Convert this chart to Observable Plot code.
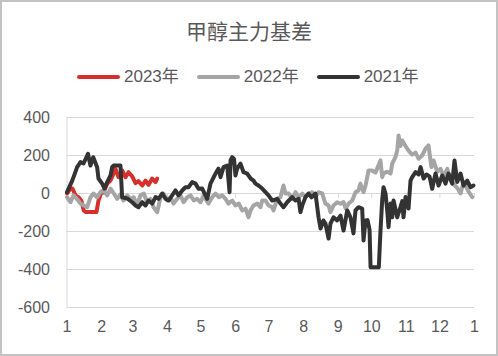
<!DOCTYPE html>
<html><head><meta charset="utf-8">
<script src="https://cdn.jsdelivr.net/npm/d3@7"></script>
<script src="https://cdn.jsdelivr.net/npm/@observablehq/plot@0.6"></script>
<style>
html,body{margin:0;padding:0;background:#fff;}
#wrap{position:relative;width:498px;height:356px;overflow:hidden;background:#fff;}
#frame{position:absolute;left:0;top:0;width:498px;height:356px;box-sizing:border-box;border:2px solid #c3c3c3;pointer-events:none;}
#title{position:absolute;left:0;top:15px;width:498px;height:30px;line-height:30px;text-align:center;font-family:"Noto Sans CJK SC";font-size:21px;color:#595959;}
#legend{position:absolute;left:77px;top:66px;height:22px;display:flex;align-items:center;font-family:"Liberation Sans","Noto Sans CJK SC";font-size:17px;color:#595959;white-space:nowrap;}
.item{display:flex;align-items:center;margin-right:18px;height:22px;line-height:22px;}
.sw{width:43px;height:4px;border-radius:2px;margin-right:4px;}
#chart{position:absolute;left:0;top:100px;}
</style></head><body>
<div id="wrap"><div id="title">甲醇主力基差</div><div id="legend"></div><div id="chart"></div><div id="frame"></div></div>
<script>
const seriesNames = ["2023年", "2022年", "2021年"];
const seriesColors = ["#d7302c", "#a5a5a5", "#333333"];

const monthDays = [0,31,59,90,120,151,181,212,243,273,304,334,365];
const monthLabels = ["1","2","3","4","5","6","7","8","9","10","11","12","1"];
const yTicks = [-600,-400,-200,0,200,400];

const days2023 = [0,3.1,4.9,7.6,10.3,13,15,17,26.4,28.2,30.9,32.7,36,39,41.7,43.4,46.1,49.4,52.4,55.1,58.4,61.4,64,67.4,70.3,73,76.3,79.3,80.8];
const vals2023 = [0,26,26,-10,-20,-40,-89,-98,-98,-37,10,5,52,68,105,130,86,121,86,112,90,55,65,42,68,45,79,60,79];

const days2022 = [0,3.1,5.8,9.1,12.1,15,18.1,21,23.7,27,30,32.7,36,39,41.9,45,47.9,50.6,53.9,56.9,59.8,62.9,65.8,68.8,71.8,74.8,77.5,80.8,83.8,86.4,89.8,92.7,95.4,98.7,101.7,104.4,107.7,110.6,113.6,116.6,119.6,122.5,124,126.8,130.1,133,136,139,142,144.7,148,150.9,153.9,156.9,159.9,162.6,164.4,167.1,170.4,173.3,174.8,177.8,180.5,183.8,185,188.3,191.2,193.9,195.7,198.7,201.7,204.7,207.6,210.7,213.6,216.6,219.6,222.6,225.3,228.6,231.5,234.3,236,238.7,242,245,247.7,249.5,252.2,255.5,258.4,261.1,262.8,265.6,267.4,270.1,273.4,276.3,277.8,280.8,282.3,283.5,286.8,289.8,291.3,294.2,295.8,297,298.7,300.3,303.2,305.9,309.2,312.2,314.9,318.1,321,323.8,326.4,328.3,331.6,334.6,337.3,340.6,343.5,346.2,349.5,352.5,355.2,357.9,359.7,363];
const vals2022 = [-19,-46,-10,-30,-53,-63,-72,-20,0,-20,7,16,-10,26,0,-28,-5,-37,-10,-28,-20,-63,-10,0,-46,-28,-72,-98,-19,0,-37,-20,-53,-28,-10,-46,-20,-10,-37,-28,-46,-10,-28,-53,-19,0,-19,-10,-28,-53,-37,-63,-53,-89,-80,-125,-89,-63,-53,-72,-37,-37,-63,-72,-89,-28,-20,42,0,0,-28,7,-20,0,-20,0,7,-20,7,0,-53,-63,-98,-63,-46,-54,-45,-79,-53,-37,7,16,52,7,42,121,121,110,131,174,86,105,115,105,157,191,226,305,250,279,250,226,205,215,183,200,235,253,139,174,115,130,90,130,70,50,30,0,60,30,10,-19];

const days2021 = [0,4.7,9.1,12.1,14.8,18.8,21,23.5,27,28.2,31.5,33.6,36,39,40.5,41.7,47.9,49.4,53.9,58.4,61.4,64,67.4,70.3,73,76.3,79.3,82,85.3,88.2,91,94.2,97.2,99.9,103.2,106.1,108.8,112.1,115.1,117.8,121.1,125.6,128.5,133,135.7,137.5,140.2,143.5,144.7,145.6,146.5,148,149.6,150.9,152.4,155.4,158.1,161.4,164.4,167.1,168.8,171.5,174.8,177.8,180.5,183.8,188.3,191.2,193.9,197.2,201.7,204.7,207.4,209.1,210.9,213.6,216.3,219,222.6,225.3,227.1,229.7,231.5,234.3,236,238.7,242,245,247.7,251,253.9,256.6,258.4,261.1,264.4,265.6,267.4,269.2,271,271.9,279.3,280.8,282.3,283.5,285.3,286.8,288,289.8,291.3,292.5,295.8,298.7,300.3,301.4,303.2,305,305.9,307.7,309.2,312.2,314.9,316.7,319.4,322,324.7,327.1,328.3,330.1,332.8,336.1,339,341.7,345,347.1,349.5,352.5,355.2,358.5,361.4,364.1];
const vals2021 = [7,68,139,165,158,209,147,191,138,79,52,26,60,95,140,147,147,-20,-26,-46,-63,-72,-46,-63,-37,-53,-19,-28,0,-28,-37,-10,16,-10,16,33,33,60,52,25,26,-28,52,105,131,86,139,147,68,7,174,191,182,95,131,157,112,105,79,68,52,42,26,7,-10,-37,-28,-53,-72,-46,-19,-37,-28,-98,-60,-19,0,-20,0,-125,-184,-142,-158,-237,-158,-125,-142,-116,-195,-89,-125,-210,-89,-72,-79,-247,-142,-140,-190,-388,-388,-195,-37,33,0,-89,-177,-53,-125,-37,-125,-72,-40,-125,-19,-50,-79,68,86,112,100,139,79,100,90,25,60,105,42,95,52,105,52,174,60,105,42,68,33,42];

const seriesDays = [days2023, days2022, days2021];
const seriesVals = [vals2023, vals2022, vals2021];

// legend
const legend = document.getElementById("legend");
seriesNames.forEach((name, i) => {
  const item = document.createElement("div");
  item.className = "item";
  const sw = document.createElement("div");
  sw.className = "sw";
  sw.style.background = seriesColors[i];
  const tx = document.createElement("span");
  tx.textContent = name;
  item.appendChild(sw); item.appendChild(tx);
  legend.appendChild(item);
});

const lineMarks = seriesNames.map((name, i) => {
  const data = seriesDays[i].map((d, j) => ({day: d, value: seriesVals[i][j]}));
  return Plot.line(data, {x: "day", y: "value", stroke: seriesColors[i], strokeWidth: 4, strokeLinejoin: "round", strokeLinecap: "round"});
});

const chart = Plot.plot({
  width: 498, height: 256,
  marginLeft: 66.5, marginRight: 24, marginTop: 17, marginBottom: 49,
  x: {domain: [0, 365], axis: null},
  y: {domain: [-600, 400], axis: null},
  style: {fontFamily: '"Liberation Sans", Arial, sans-serif', background: "transparent", overflow: "visible"},
  marks: [
    Plot.ruleY(yTicks, {y: d => d, stroke: "#d9d9d9", strokeWidth: 1}),
    Plot.ruleX([0], {x: d => d, y1: -600, y2: 400, stroke: "#d9d9d9"}),
    Plot.ruleX(monthDays, {x: d => d, y1: 0, y2: 0, insetBottom: -5, stroke: "#d9d9d9"}),
    ...lineMarks,
    Plot.text(yTicks, {y: d => d, text: d => String(d), frameAnchor: "left", textAnchor: "end", dx: -17, fontSize: 16, fill: "#595959"}),
    Plot.text(monthDays, {x: d => d, text: (d, i) => monthLabels[i], frameAnchor: "bottom", dy: 24, fontSize: 16, fill: "#595959"})
  ]
});
document.getElementById("chart").appendChild(chart);
</script>
</body></html>
